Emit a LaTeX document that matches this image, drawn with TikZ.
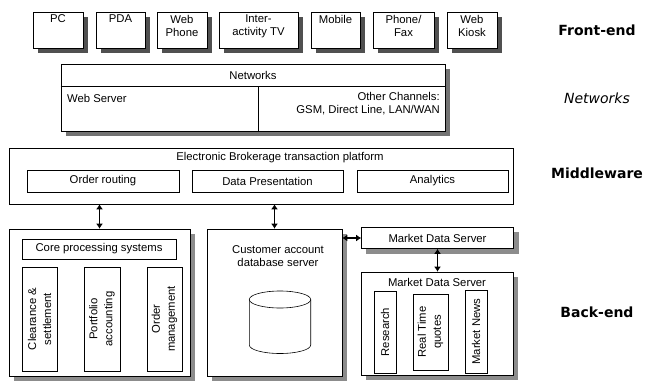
\documentclass[tikz,border=0pt]{standalone}
\usepackage{fontspec}
\setmainfont{Liberation Sans}
\newfontfamily\labfont{DejaVu Sans}
\usetikzlibrary{arrows.meta,calc,backgrounds}
\definecolor{shadowgray}{RGB}{140,140,140}
\definecolor{shadowgrayA}{RGB}{80,80,80}
\definecolor{shadowgrayB}{RGB}{115,115,115}
\begin{document}
\begin{tikzpicture}[x=1pt,y=-1pt,
  every node/.style={font=\fontsize{11.3}{13.3}\selectfont},
  box/.style={draw, line width=0.6pt, fill=white, inner sep=0pt, rectangle},
  shadowbox/.style={fill=shadowgray, draw=none},
  txt/.style={inner sep=0pt, align=center},
  vtxt/.style={inner sep=0pt, align=center, rotate=90, font=\fontsize{11.3}{15}\selectfont},
  side/.style={inner sep=0pt, font=\labfont\bfseries\fontsize{14}{16}\selectfont},
  dbl/.style={{Latex[length=5pt,width=7pt]}-{Latex[length=5pt,width=7pt]}, line width=1.2pt}]
\useasboundingbox (0,0) rectangle (648,383);

% Front-end devices
\node[box, minimum width=50pt, minimum height=36pt] (pc) at (58,30) {};
\node[box, minimum width=49pt, minimum height=36pt] (pda) at (120.5,30) {};
\node[box, minimum width=50pt, minimum height=36pt] (wph) at (182,30) {};
\node[box, minimum width=79pt, minimum height=36pt] (itv) at (258.5,30) {};
\node[box, minimum width=49pt, minimum height=36pt] (mob) at (335.5,30) {};
\node[box, minimum width=61pt, minimum height=36pt] (pfx) at (403.5,30) {};
\node[box, minimum width=50pt, minimum height=36pt] (kio) at (472,30) {};
\node[txt, anchor=north] (pct) at ($(pc.north)+(0,3)$) {PC};
\node[txt, anchor=north] (pdat) at ($(pda.north)+(0,3)$) {PDA};
\node[txt, anchor=north] (wpht) at ($(wph.north)+(0,3)$) {Web\\Phone};
\node[txt, anchor=north] (itvt) at ($(itv.north)+(0,3)$) {Inter-\\activity TV};
\node[txt, anchor=north] (mobt) at ($(mob.north)+(0,3)$) {Mobile};
\node[txt, anchor=north] (pfxt) at ($(pfx.north)+(0,3)$) {Phone/\\Fax};
\node[txt, anchor=north] (kiot) at ($(kio.north)+(0,3)$) {Web\\Kiosk};

% Networks
\node[box, minimum width=384pt, minimum height=67pt] (nw) at (253,97.5) {};
\draw[line width=0.6pt] (nw.west |- 0,86) -- (nw.east |- 0,86);
\draw[line width=0.6pt] (258,86) -- (258,0 |- nw.south);
\node[txt] (nwt) at (253,75) {Networks};
\node[txt, anchor=west] (ws) at (67,98) {Web Server};
\node[txt, anchor=north east, align=right] (oc) at (440,92) {Other Channels:\\GSM, Direct Line, LAN/WAN};

% Middleware platform
\node[box, minimum width=504pt, minimum height=56pt] (plat) at (261,176) {};
\node[txt] (platt) at (280,158) {Electronic Brokerage transaction platform};
\node[box, minimum width=152pt, minimum height=22pt] (or) at (103,181) {Order routing};
\node[box, minimum width=151pt, minimum height=22pt] (dp) at (267.5,181) {Data Presentation};
\node[box, minimum width=151pt, minimum height=22pt] (an) at (432.5,181) {Analytics};

% Back-end: core processing
\node[box, minimum width=181pt, minimum height=147pt] (core) at (99.5,302.5) {};
\node[box, minimum width=154pt, minimum height=20pt] (cps) at (99,249) {Core processing systems};
\node[box, minimum width=35pt, minimum height=104pt] (cl) at (39.5,319) {};
\node[box, minimum width=36pt, minimum height=104pt] (pa) at (102,319) {};
\node[box, minimum width=35pt, minimum height=104pt] (om) at (164.5,319) {};
\node[vtxt] (clt) at (cl.center) {Clearance \&\\settlement};
\node[vtxt] (pat) at (pa.center) {Portfolio\\accounting};
\node[vtxt] (omt) at (om.center) {Order\\management};

% Customer account database server
\node[box, minimum width=135pt, minimum height=147pt] (cust) at (274.5,302.5) {};
\node[txt, anchor=north] (custt) at (278,245) {Customer account\\database server};
\draw[line width=0.6pt] (280,299.5) ellipse [x radius=30.7, y radius=8.5];
\draw[line width=0.6pt] (249.3,299.5) -- (249.3,345) arc[start angle=180, end angle=0, x radius=30.7, y radius=8.5] -- (310.7,299.5);

% Market data servers
\node[box, minimum width=152pt, minimum height=21pt] (mds1) at (437.5,238) {Market Data Server};
\node[box, minimum width=152pt, minimum height=103pt] (mds2) at (437,323.5) {};
\node[txt] (mds2t) at (437,282) {Market Data Server};
\node[box, minimum width=22pt, minimum height=82pt] (res) at (385,332) {};
\node[box, minimum width=35pt, minimum height=76pt] (rtq) at (430.5,332) {};
\node[box, minimum width=22pt, minimum height=83pt] (mnw) at (476,331.5) {};
\node[vtxt] (rest) at (res.center) {Research};
\node[vtxt] (rtqt) at (rtq.center) {Real Time\\quotes};
\node[vtxt] (mnwt) at (mnw.center) {Market News};

% Background and drop shadows
\begin{scope}[on background layer]
\fill[white] (0,0) rectangle (648,383);
\foreach \bx in {pc,pda,wph,itv,mob,pfx,kio}
  \path[fill=shadowgrayA] ($(\bx.north east)+(5,5)$) rectangle ($(\bx.south west)+(5,5)$);
\foreach \bx in {nw}
  \path[fill=shadowgrayB] ($(\bx.north east)+(5,5)$) rectangle ($(\bx.south west)+(5,5)$);
\foreach \bx in {core,cust,mds1,mds2}
  \path[shadowbox] ($(\bx.north east)+(5,5)$) rectangle ($(\bx.south west)+(5,5)$);
\end{scope}

% Connectors
\draw[dbl] (core.north |- plat.south) -- (core.north);
\draw[dbl] (cust.north |- plat.south) -- (cust.north);
\draw[dbl] (cust.east |- mds1.west) -- (mds1.west);
\draw[dbl] (mds1.south) -- (mds1.south |- mds2.north);

% Layer labels
\node[side] (lfe) at (597,30) {Front-end};
\node[side, font=\labfont\itshape\fontsize{14}{16}\selectfont] (lnw) at (597,98) {Networks};
\node[side] (lmw) at (597,173) {Middleware};
\node[side] (lbe) at (597,312) {Back-end};
\end{tikzpicture}
\end{document}
